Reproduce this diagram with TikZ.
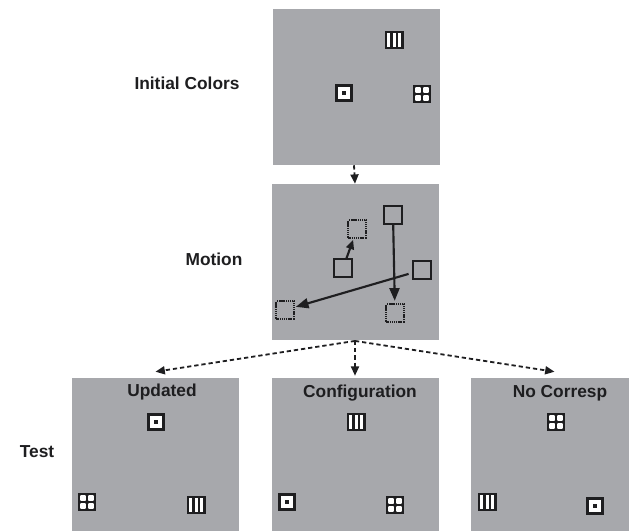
\documentclass[tikz,border=0pt]{standalone}
\usepackage{fontspec}
\setmainfont{Liberation Sans}
\usetikzlibrary{arrows.meta}
\definecolor{panelgray}{RGB}{167,168,172}
\definecolor{inkdark}{RGB}{30,30,32}
\tikzset{
  panel/.style={fill=panelgray, draw=none, minimum width=125.25pt, minimum height=117pt, inner sep=0pt},
  lbl/.style={text=inkdark, font=\fontsize{13}{15}\selectfont\bfseries, inner sep=0pt},
  flow/.style={draw=inkdark, dashed, dash pattern=on 3.2pt off 2.2pt, line width=1.35pt,
    -{Triangle[length=7pt,width=6pt]}},
  spot/.style={draw=inkdark, line width=1.35pt, minimum size=13pt, inner sep=0pt},
  spotgoal/.style={spot, dash pattern=on 0.9pt off 0.5pt},
  move/.style={draw=inkdark, line width=1.6pt, -{Triangle[length=9.5pt,width=7.5pt]}},
  tgt/.pic={
    \fill[inkdark] (-9,-9) rectangle (9,9);
    \fill[white] (-6,-6) rectangle (6,6);
    \fill[inkdark] (-1.8,-1.8) rectangle (1.8,1.8);
  },
  bars/.pic={
    \fill[inkdark] (-9.5,-9) rectangle (9.5,9);
    \foreach \a/\b in {-7/-4, -1.5/1.5, 4/7}
      \fill[white] (\a,-6.8) rectangle (\b,6.8);
  },
  quad/.pic={
    \fill[inkdark] (-9,-9) rectangle (9,9);
    \foreach \a/\b in {-6.8/-1.1, 1.1/6.8}
      \foreach \c/\d in {-6.8/-1.1, 1.1/6.8}
        \fill[white, rounded corners=0.6pt] (\a,\c) rectangle (\b,\d);
  },
}
\begin{document}
\begin{tikzpicture}[x=0.75pt, y=-0.75pt]
\path[use as bounding box, clip] (0,0) rectangle (629,531);
\fill[white] (0,0) rectangle (629,531);

% panels
\node[panel] (pinit) at (356,87) {};
\node[panel] (pmot) at (355,262) {};
\node[panel] (pupd) at (155.5,456) {};
\node[panel] (pconf) at (355,456) {};
\node[panel] (pnone) at (554.5,456) {};

% row labels
\node[lbl] (linit) at (187,83) {Initial Colors};
\node[lbl] (lmot) at (214,259) {Motion};
\node[lbl] (ltest) at (37,452) {Test};

% panel titles
\node[lbl] (tupd) at (162,392) {Updated};
\node[lbl] (tconf) at (360,393) {Configuration};
\node[lbl] (tnone) at (560,393) {No Corresp};

% initial colours
\pic at (394,40) {bars};
\pic at (344,93) {tgt};
\pic at (422,94) {quad};

% motion: start spots and end spots
\node[spot] (ma) at (393,215) {};
\node[spotgoal] (mb) at (357,229) {};
\node[spot] (mc) at (343,268) {};
\node[spot] (md) at (422,270) {};
\node[spotgoal] (me) at (285,310) {};
\node[spotgoal] (mf) at (395,313) {};
\draw[move, shorten >=2pt] (ma) -- (mf);
\draw[move, -{Triangle[length=7pt,width=6pt]}, shorten >=1pt] (mc) -- (mb);
\draw[move, shorten <=3pt, shorten >=1pt] (md) -- (me);

% test: updated
\pic at (156,422) {tgt};
\pic at (87,502) {quad};
\pic at (196,505) {bars};
% test: configuration
\pic at (356,422) {bars};
\pic at (287,502) {tgt};
\pic at (395,505) {quad};
% test: no correspondence
\pic at (556,422) {quad};
\pic at (487,502) {bars};
\pic at (595,506) {tgt};

% flow between panels
\draw[flow] ([xshift=-1.5pt]pinit.south) -- (pmot.north);
\coordinate (split) at ([yshift=-0.5pt]pmot.south);
\draw[flow] (split) -- ([yshift=4.5pt]pupd.north);
\draw[flow] (split) -- ([yshift=1.5pt]pconf.north);
\draw[flow] (split) -- ([yshift=4.5pt]pnone.north);
\end{tikzpicture}
\end{document}
